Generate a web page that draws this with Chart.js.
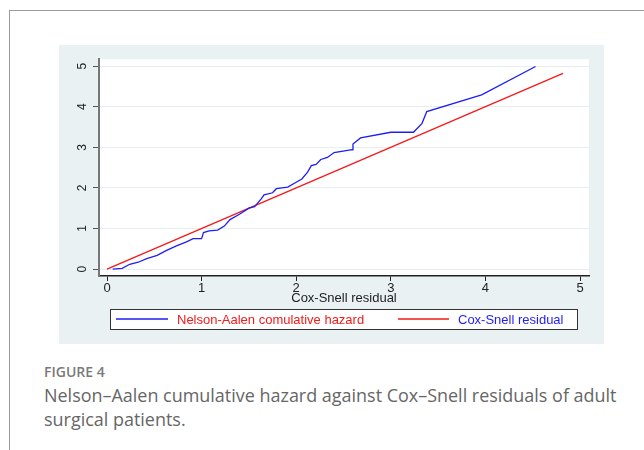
<!DOCTYPE html>
<html>
<head>
<meta charset="utf-8">
<script src="https://cdn.jsdelivr.net/npm/chart.js@4.4.1/dist/chart.umd.min.js"></script>
<style>
  body { margin: 0; background: #fff; width: 644px; height: 450px; overflow: hidden; position: relative; font-family: "Open Sans", sans-serif; }
  #frame { position: absolute; left: 9px; top: 10px; width: 640px; height: 445px; border-left: 1.5px solid #9a9a9a; border-top: 1.5px solid #9a9a9a; }
  #panel { position: absolute; left: 59px; top: 45px; width: 545px; height: 299px; background: #eaf1f3; }
  #fig { position: absolute; left: 44px; top: 365px; font-size: 14px; line-height: 14px; font-weight: 600; color: #7a7a7a; white-space: nowrap; }
  #cap { position: absolute; left: 44px; top: 383px; font-size: 18px; line-height: 24px; color: #666; white-space: nowrap; }
</style>
</head>
<body>
<div id="frame"></div>
<div id="panel"><canvas id="haz" width="545" height="299"></canvas></div>
<div id="fig">FIGURE 4</div>
<div id="cap"><span id="cap1">Nelson–Aalen cumulative hazard against Cox–Snell residuals of adult</span><br>surgical patients.</div>
<script>
// Nelson-Aalen cumulative hazard
const cumHazX = [0.06, 0.16, 0.24, 0.33, 0.42, 0.53, 0.63, 0.74, 0.84, 0.91, 1.0, 1.02, 1.08, 1.17, 1.24, 1.3, 1.4, 1.5, 1.56, 1.63, 1.66, 1.75, 1.79, 1.91, 2.0, 2.06, 2.12, 2.16, 2.21, 2.26, 2.33, 2.4, 2.59, 2.6, 2.68, 3.0, 3.24, 3.33, 3.38, 3.96, 4.53];
const cumHazY = [0, 0.02, 0.12, 0.17, 0.26, 0.34, 0.46, 0.58, 0.67, 0.75, 0.75, 0.9, 0.94, 0.96, 1.06, 1.22, 1.35, 1.5, 1.54, 1.73, 1.83, 1.88, 1.98, 2.02, 2.14, 2.22, 2.39, 2.55, 2.58, 2.7, 2.75, 2.87, 2.94, 3.08, 3.23, 3.37, 3.37, 3.59, 3.88, 4.29, 4.99];
// Cox-Snell residual reference line
const refX = [0, 4.82];
const refY = [0, 4.82];
const xTicks = [0, 1, 2, 3, 4, 5];
const yTicks = [0, 1, 2, 3, 4, 5];

const FONT = '"Liberation Sans", Arial, sans-serif';
const BLUE = "rgb(30, 30, 245)";
const RED = "rgb(245, 25, 25)";

// fit caption line width
const cap1 = document.getElementById("cap1");
const w = cap1.getBoundingClientRect().width;
document.getElementById("cap").style.fontSize = (18 * 573 / w).toFixed(2) + "px";

const plotBg = {
    id: "plotBg",
    beforeDraw(chart) {
        const { ctx, chartArea } = chart;
        ctx.save();
        ctx.fillStyle = "#fff";
        ctx.fillRect(chartArea.left, chartArea.top, chartArea.right - chartArea.left, chartArea.bottom - chartArea.top);
        ctx.restore();
    },
};

const stataLegend = {
    id: "stataLegend",
    afterDraw(chart) {
        const { ctx, chartArea } = chart;
        const left = chartArea.left + 11;
        const right = chartArea.right - 12;
        const top = chart.height - 35;
        const h = 20;
        const cy = top + h / 2;
        ctx.save();
        ctx.fillStyle = "#fff";
        ctx.fillRect(left, top, right - left, h);
        ctx.strokeStyle = "#333";
        ctx.lineWidth = 1;
        ctx.strokeRect(left + 0.5, top + 0.5, right - left, h);
        ctx.lineWidth = 1.3;
        ctx.strokeStyle = BLUE;
        ctx.beginPath(); ctx.moveTo(left + 6, cy); ctx.lineTo(left + 58, cy); ctx.stroke();
        ctx.strokeStyle = RED;
        ctx.beginPath(); ctx.moveTo(left + 288, cy); ctx.lineTo(left + 339, cy); ctx.stroke();
        ctx.font = "13px " + FONT;
        ctx.textBaseline = "middle";
        ctx.fillStyle = RED;
        ctx.fillText("Nelson-Aalen comulative hazard", left + 67, cy + 1);
        ctx.fillStyle = BLUE;
        ctx.fillText("Cox-Snell residual", left + 348, cy + 1);
        ctx.restore();
    },
};

const data = {
    datasets: [
        {
            label: "Nelson-Aalen comulative hazard",
            data: cumHazX.map((x, i) => ({ x: x, y: cumHazY[i] })),
            borderColor: BLUE,
            borderWidth: 1.3,
            pointRadius: 0,
            showLine: true,
            tension: 0,
        },
        {
            label: "Cox-Snell residual",
            data: refX.map((x, i) => ({ x: x, y: refY[i] })),
            borderColor: RED,
            borderWidth: 1.3,
            pointRadius: 0,
            showLine: true,
        },
    ],
};

const config = {
    type: "scatter",
    data: data,
    options: {
        responsive: false,
        animation: false,
        layout: { padding: { left: 0, top: 10, right: 15, bottom: 38 } },
        plugins: {
            legend: { display: false },
            tooltip: { enabled: false },
        },
        scales: {
            x: {
                type: "linear",
                min: -0.0846,
                max: 5.095,
                afterBuildTicks: (s) => { s.ticks = xTicks.map((v) => ({ value: v })); },
                afterFit: (s) => { s.height = 30; },
                grid: { drawOnChartArea: false, drawTicks: true, tickLength: 5, tickColor: "#222", tickWidth: 1 },
                border: { color: "#222", width: 1.5 },
                ticks: { color: "#222", font: { family: FONT, size: 13 }, padding: 0, maxRotation: 0 },
                title: { display: true, text: "Cox-Snell residual", color: "#222", font: { family: FONT, size: 13 }, padding: 0 },
            },
            y: {
                type: "linear",
                min: -0.169,
                max: 5.169,
                afterBuildTicks: (s) => { s.ticks = yTicks.map((v) => ({ value: v })); },
                afterFit: (s) => { s.width = 40; },
                grid: { color: "#e6eef0", lineWidth: 1, tickLength: 6, tickColor: "#555", tickWidth: 1 },
                border: { color: "#777", width: 2 },
                ticks: { color: "#222", font: { family: FONT, size: 12 }, padding: 7, minRotation: 90, maxRotation: 90, crossAlign: "center" },
            },
        },
    },
    plugins: [plotBg, stataLegend],
};

const ctx = document.getElementById("haz").getContext("2d");
new Chart(ctx, config);
</script>
</body>
</html>
